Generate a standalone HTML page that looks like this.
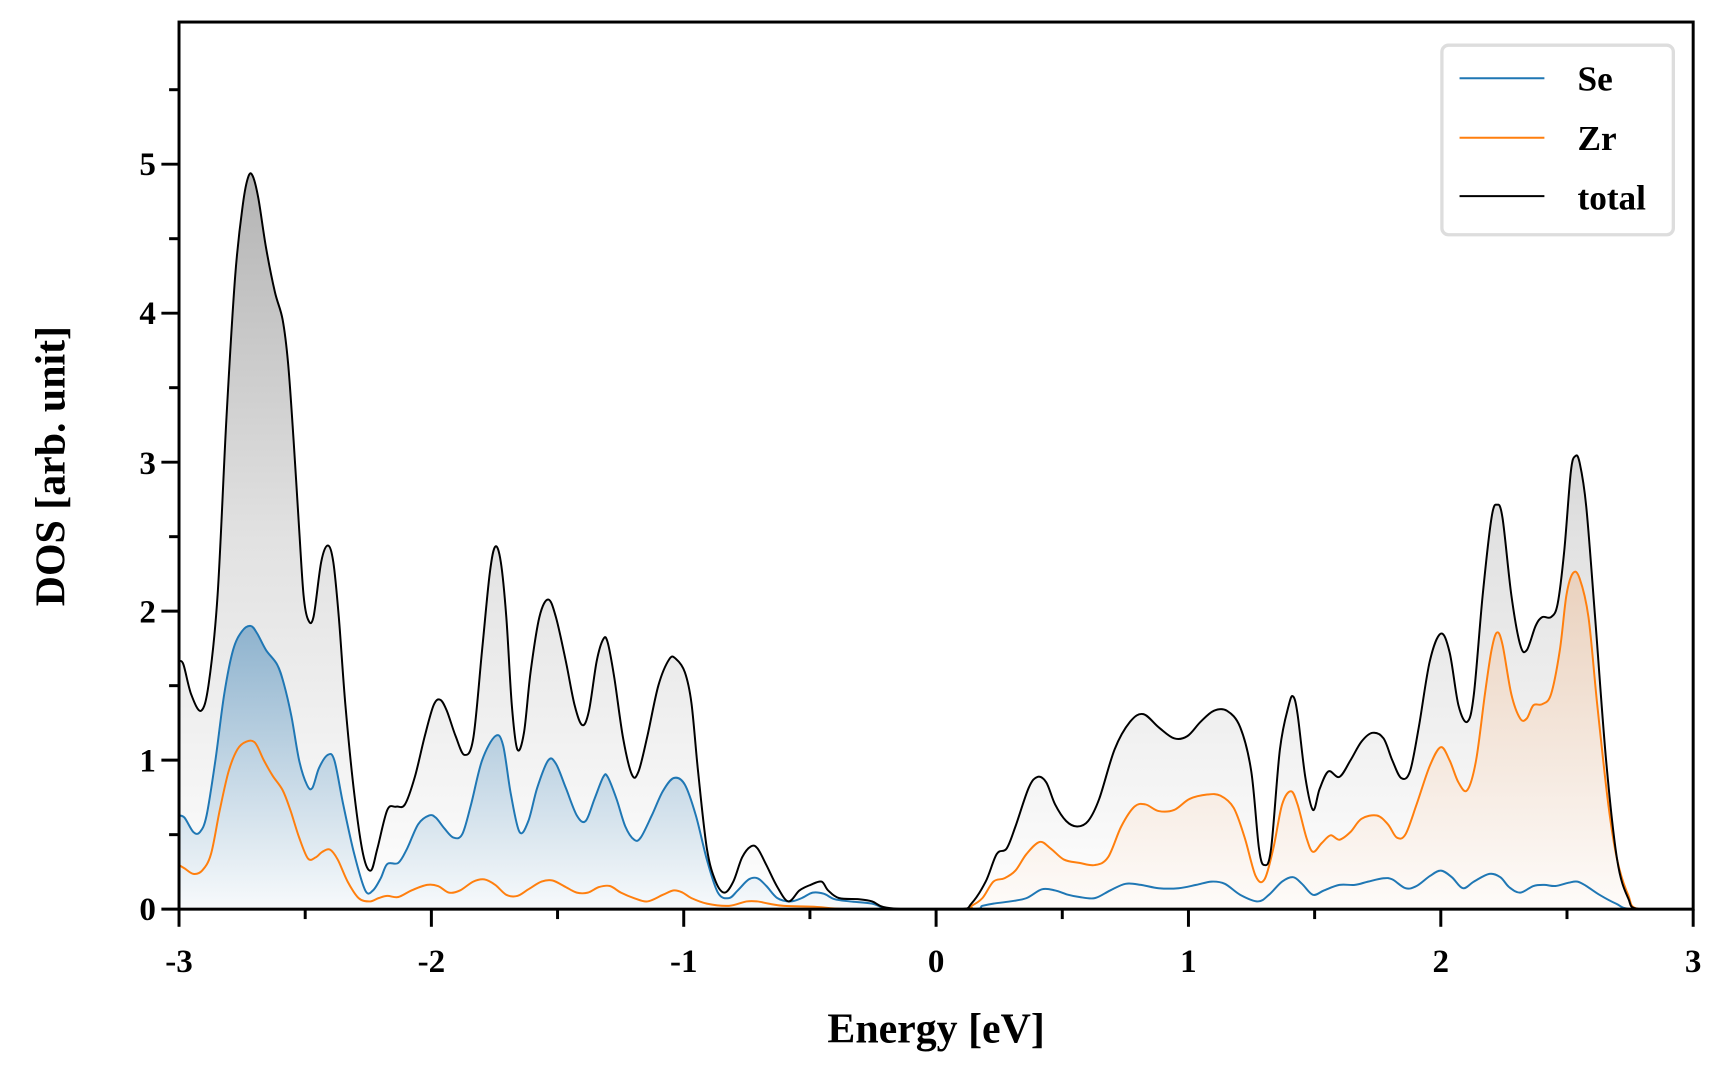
<!DOCTYPE html>
<html><head><meta charset="utf-8"><style>
html,body{margin:0;padding:0;background:#fff;}
svg{display:block;}
text{font-family:"Liberation Serif",serif;font-weight:bold;fill:#000;}
</style></head><body>
<svg id="s" width="1728" height="1080" viewBox="0 0 1728 1080">
<defs>
<linearGradient id="gT" x1="0" y1="158" x2="0" y2="825" gradientUnits="userSpaceOnUse"><stop offset="0" stop-color="#b4b4b4"/><stop offset="0.5" stop-color="#e2e2e2"/><stop offset="1" stop-color="#fefefe"/></linearGradient>
<linearGradient id="gB" x1="0" y1="568" x2="0" y2="825" gradientUnits="userSpaceOnUse"><stop offset="0" stop-color="#7ea9c9"/><stop offset="1" stop-color="#f6f9fb"/></linearGradient>
<linearGradient id="gO" x1="0" y1="520" x2="0" y2="825" gradientUnits="userSpaceOnUse"><stop offset="0" stop-color="#ecc9ad"/><stop offset="1" stop-color="#fefaf7"/></linearGradient>
<clipPath id="cp"><rect x="161" y="20" width="1374" height="805"/></clipPath>
</defs>
<g transform="matrix(1.102,0,0,1.102,1.6,0)">
<g clip-path="url(#cp)">
<path id="fT" fill="url(#gT)"/>
<path id="fB" fill="url(#gB)" opacity="0.85"/>
<path id="fO" fill="url(#gO)" opacity="0.7"/>
<path id="lB" fill="none" stroke="#1f77b4" stroke-width="1.8"/>
<path id="lO" fill="none" stroke="#ff7f0e" stroke-width="1.8"/>
<path id="lT" fill="none" stroke="#000" stroke-width="1.8"/>
</g>
<rect x="161" y="20" width="1374" height="805" fill="none" stroke="#000" stroke-width="2.7"/>
<g id="ticks" stroke="#000" stroke-width="2.7"></g>
<g font-size="30" text-anchor="middle">
<text x="161" y="882">-3</text><text x="390" y="882">-2</text><text x="619" y="882">-1</text><text x="848" y="882">0</text><text x="1077" y="882">1</text><text x="1306" y="882">2</text><text x="1535" y="882">3</text>
</g>
<g font-size="30" text-anchor="end">
<text x="140" y="835">0</text><text x="140" y="700">1</text><text x="140" y="565">2</text><text x="140" y="430">3</text><text x="140" y="294">4</text><text x="140" y="159">5</text>
</g>
<text x="848" y="946" font-size="38" text-anchor="middle">Energy [eV]</text>
<text transform="translate(57,423) rotate(-90)" font-size="38" text-anchor="middle">DOS [arb. unit]</text>
<rect x="1307" y="41" width="210" height="172" rx="6" fill="#fff" stroke="#ddd" stroke-width="3"/>
<line x1="1323" y1="71" x2="1400" y2="71" stroke="#1f77b4" stroke-width="1.8"/>
<line x1="1323" y1="125" x2="1400" y2="125" stroke="#ff7f0e" stroke-width="1.8"/>
<line x1="1323" y1="178" x2="1400" y2="178" stroke="#000" stroke-width="1.8"/>
<g font-size="32"><text x="1430" y="82">Se</text><text x="1430" y="136">Zr</text><text x="1430" y="190">total</text></g>
</g>
</svg>
<script>
function P(a){var r=[];for(var i=0;i<a.length;i+=2)r.push([a[i],a[i+1]]);return r;}
var T=P([161,600,165,603,172,630,181,645,188,620,196,540,204,380,212,250,219,185,224,160,228,160,233,180,240,225,248,265,255,290,260,330,265,400,270,480,274,540,278,562,283,560,290,510,296,495,301,510,306,560,312,640,320,720,328,775,335,790,341,770,350,735,358,732,366,730,375,705,384,668,392,640,398,635,404,645,412,668,420,685,428,670,436,590,443,520,448,496,453,510,458,560,463,640,468,680,474,665,480,610,488,560,496,544,503,560,512,600,520,640,527,658,533,645,540,600,546,580,550,583,556,615,564,670,572,703,578,700,586,668,596,622,606,598,612,598,620,610,626,638,632,700,640,770,648,800,656,810,664,800,672,778,680,768,686,770,694,785,704,805,714,818,724,808,734,803,744,800,750,808,760,815,778,816,790,818,800,823,820,825,870,825,880,820,893,800,903,775,912,770,920,750,932,715,940,705,948,710,956,730,966,745,976,750,986,745,996,725,1010,680,1024,655,1036,648,1050,660,1064,670,1076,668,1088,655,1100,645,1112,645,1124,660,1134,700,1141,770,1146,785,1152,770,1160,680,1168,640,1172,632,1176,648,1183,705,1190,735,1196,716,1204,700,1214,705,1224,690,1234,673,1244,665,1254,670,1262,690,1270,706,1278,700,1286,660,1296,600,1306,575,1314,592,1322,640,1330,655,1336,630,1344,540,1352,470,1357,458,1362,470,1370,540,1378,585,1384,590,1392,568,1398,560,1406,560,1412,548,1418,500,1424,428,1428,414,1432,420,1438,460,1446,560,1456,690,1466,780,1476,815,1486,825,1535,825]);
var B=P([161,740,166,742,174,755,180,755,186,740,194,690,202,630,210,590,218,573,226,568,232,575,240,590,250,603,256,620,263,650,270,690,277,712,282,715,288,697,296,685,302,690,310,730,320,775,330,808,337,808,344,797,350,784,360,783,368,770,378,748,388,740,394,742,402,752,410,760,418,757,426,730,436,690,448,668,455,676,462,720,470,755,478,745,486,715,496,690,503,693,512,715,522,740,530,745,538,725,546,705,550,705,558,725,566,750,574,762,580,760,590,740,600,718,610,706,620,712,630,740,640,780,650,810,660,815,668,808,678,798,686,797,694,804,704,815,716,818,726,815,736,810,746,811,756,816,770,818,790,820,810,825,880,825,890,822,900,820,915,818,930,815,944,807,956,808,968,812,978,814,992,815,1006,808,1020,802,1034,803,1050,806,1068,806,1084,803,1098,800,1110,802,1124,812,1140,818,1150,812,1162,800,1172,796,1180,802,1190,812,1200,808,1214,803,1228,803,1240,800,1254,797,1262,798,1274,806,1284,804,1296,795,1306,790,1316,796,1326,806,1336,800,1350,793,1360,796,1368,805,1378,810,1390,804,1400,803,1410,804,1422,801,1430,800,1438,804,1450,812,1465,820,1480,825,1535,825]);
var O=P([161,785,166,788,174,793,182,790,190,775,198,735,206,700,214,680,222,673,230,674,238,690,246,704,255,717,262,735,270,760,278,779,285,778,291,773,298,771,305,780,314,800,324,815,334,818,342,815,350,813,360,814,372,808,386,803,396,804,406,810,416,808,428,800,438,798,448,803,458,812,468,813,478,807,490,800,500,799,512,805,522,810,532,810,542,805,552,804,562,810,574,815,586,818,600,812,610,808,618,810,626,815,640,820,660,822,676,818,686,818,696,820,710,822,740,823,770,825,870,825,880,822,890,815,900,800,910,797,920,790,930,775,942,764,952,770,964,780,978,783,992,785,1004,778,1016,750,1028,732,1038,730,1050,736,1064,735,1078,725,1094,721,1106,722,1118,733,1128,760,1138,795,1146,798,1154,770,1162,730,1170,718,1176,730,1184,760,1190,773,1198,765,1206,758,1214,762,1224,755,1234,743,1248,740,1258,748,1266,760,1274,757,1284,730,1296,695,1306,678,1314,690,1322,710,1330,717,1338,690,1346,630,1352,590,1357,574,1362,585,1370,630,1378,652,1384,652,1390,640,1398,639,1406,630,1414,590,1420,540,1426,520,1432,525,1440,560,1448,640,1458,730,1466,780,1476,812,1486,825,1535,825]);
function cr(p){var d="M"+p[0][0]+","+p[0][1];for(var i=0;i<p.length-1;i++){var a=p[i-1]||p[i],b=p[i],c=p[i+1],e=p[i+2]||c;d+="C"+(b[0]+(c[0]-a[0])/6).toFixed(2)+","+(b[1]+(c[1]-a[1])/6).toFixed(2)+" "+(c[0]-(e[0]-b[0])/6).toFixed(2)+","+(c[1]-(e[1]-b[1])/6).toFixed(2)+" "+c[0]+","+c[1];}return d;}
function st(id,v){document.getElementById(id).setAttribute("d",v);}
var dT=cr(T),dB=cr(B),dO=cr(O);
st("lT",dT);st("lB",dB);st("lO",dO);
st("fT",dT+"L1535,825L161,825Z");
st("fB",cr(B.filter(function(q){return q[0]<=880;}))+"L880,825L161,825Z");
st("fO",cr(O.filter(function(q){return q[0]>=870;}))+"L870,825Z");
var g=document.getElementById("ticks"),h="";
for(var i=0;i<=12;i++){var x=161+i*114.5,L=(i%2==0)?16:9;h+='<line x1="'+x+'" y1="825" x2="'+x+'" y2="'+(825+L)+'"/>';}
for(var j=0;j<=11;j++){var y=825-j*67.6,L=(j%2==0)?16:9;h+='<line x1="161" y1="'+y+'" x2="'+(161-L)+'" y2="'+y+'"/>';}
g.innerHTML=h;
</script>
</body></html>
